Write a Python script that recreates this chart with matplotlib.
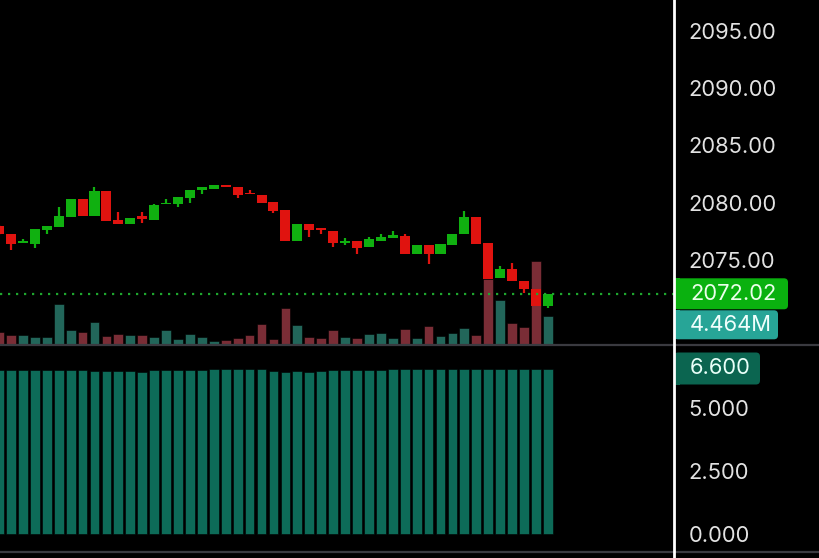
import matplotlib.pyplot as plt
from matplotlib.lines import Line2D
from matplotlib.patches import FancyBboxPatch, Rectangle
import numpy as np

# candles (oldest first), prices
opens = [2077.98, 2077.28, 2076.45, 2076.40, 2077.63, 2077.89, 2078.77, 2080.35, 2078.86, 2081.05,
         2078.51, 2078.16, 2078.86, 2078.51, 2079.91, 2079.91, 2080.44, 2081.14, 2081.23, 2081.58,
         2081.40, 2080.85, 2080.70, 2080.09, 2079.39, 2076.67, 2078.16, 2077.81, 2077.54, 2076.49,
         2076.67, 2076.14, 2076.67, 2076.93, 2077.11, 2075.53, 2076.32, 2075.53, 2076.32, 2077.28,
         2078.77, 2076.49, 2073.42, 2074.21, 2073.16, 2072.46, 2070.96]
closes = [2077.28, 2076.40, 2076.62, 2077.72, 2077.98, 2078.86, 2080.35, 2078.86, 2081.05, 2078.42,
          2078.16, 2078.68, 2078.60, 2079.82, 2080.00, 2080.53, 2081.14, 2081.32, 2081.58, 2081.32,
          2080.70, 2080.75, 2080.00, 2079.30, 2076.67, 2078.16, 2077.63, 2077.63, 2076.49, 2076.67,
          2076.05, 2076.84, 2077.02, 2077.19, 2075.53, 2076.32, 2075.53, 2076.40, 2077.28, 2078.77,
          2076.40, 2073.33, 2074.21, 2073.16, 2072.46, 2070.96, 2072.02]
highs = [2078.05, 2077.28, 2076.84, 2077.72, 2077.98, 2079.65, 2080.35, 2080.35, 2081.40, 2081.05,
         2079.21, 2078.68, 2079.21, 2079.91, 2080.35, 2080.53, 2081.14, 2081.32, 2081.58, 2081.58,
         2081.40, 2081.14, 2080.70, 2080.09, 2079.39, 2078.16, 2078.16, 2077.81, 2077.54, 2076.93,
         2076.67, 2077.02, 2077.28, 2077.54, 2077.28, 2076.32, 2076.32, 2076.40, 2077.28, 2079.30,
         2078.77, 2076.49, 2074.47, 2074.74, 2073.16, 2072.46, 2072.02]
lows = [2077.20, 2075.88, 2076.45, 2076.05, 2077.28, 2077.89, 2078.77, 2078.86, 2078.86, 2078.42,
        2078.16, 2078.16, 2078.25, 2078.51, 2079.91, 2079.65, 2080.00, 2080.79, 2081.23, 2081.32,
        2080.44, 2080.75, 2080.00, 2079.12, 2076.67, 2076.67, 2077.02, 2077.28, 2076.14, 2076.32,
        2075.53, 2076.14, 2076.67, 2076.93, 2075.53, 2075.53, 2074.65, 2075.53, 2076.32, 2077.28,
        2076.40, 2073.33, 2073.42, 2073.16, 2072.11, 2070.96, 2070.79]

# volume in millions
volumes = [2.00, 1.54, 1.54, 1.23, 1.23, 6.31, 2.31, 2.00, 3.54, 1.39,
           1.69, 1.54, 1.54, 1.23, 2.31, 0.92, 1.69, 1.23, 0.62, 0.77,
           1.08, 1.54, 3.23, 0.92, 5.70, 3.08, 1.23, 1.08, 2.31, 1.23,
           1.08, 1.69, 1.85, 1.08, 2.46, 1.08, 2.92, 1.39, 1.85, 2.62,
           1.54, 10.16, 6.93, 3.39, 2.77, 12.93, 4.464]

# lower indicator pane
indicator = [6.54, 6.54, 6.54, 6.54, 6.54, 6.54, 6.54, 6.54, 6.50, 6.50,
             6.50, 6.50, 6.47, 6.54, 6.54, 6.54, 6.54, 6.54, 6.58, 6.58,
             6.58, 6.58, 6.58, 6.50, 6.47, 6.50, 6.47, 6.50, 6.54, 6.54,
             6.54, 6.54, 6.54, 6.60, 6.60, 6.60, 6.60, 6.60, 6.60, 6.60,
             6.60, 6.60, 6.60, 6.60, 6.60, 6.60, 6.60]

price_ticks = [2075, 2080, 2085, 2090, 2095]
ind_ticks = [0, 2.5, 5]


def main():
    W, H = 820, 558
    fig = plt.figure(figsize=(W / 100, H / 100), dpi=100, facecolor="black")
    plt.rcParams["font.family"] = ["Inter", "DejaVu Sans"]

    green = "#10b010"
    red = "#e0130f"
    vol_green = "#22665a"
    vol_red = "#7a2d36"
    ind_color = "#0d6b58"
    txt = "#e2e2e2"
    grid = "#3a3a40"
    fs = 15.8

    x = np.arange(len(opens))
    xlim = (0.08, 56.57)
    up = np.array(closes) >= np.array(opens)

    # volume pane behind the candles
    rect_top = [0, (H - 345) / H, 674 / W, 345 / H]
    ax_vol = fig.add_axes(rect_top, facecolor="black")
    ax_vol.bar(x, volumes, width=0.82, color=[vol_green if u else vol_red for u in up],
               edgecolor="black", linewidth=0.4)
    ax_vol.set_ylim(0, 52.9)
    ax_vol.set_xlim(*xlim)
    ax_vol.axis("off")

    ax = fig.add_axes(rect_top, facecolor="none")
    ax.set_zorder(ax_vol.get_zorder() + 1)
    cols = [green if u else red for u in up]
    ax.vlines(x, lows, highs, colors=cols, linewidth=1.6)
    bottoms = np.minimum(opens, closes)
    heights = np.maximum(np.abs(np.array(closes) - np.array(opens)), 0.08)
    ax.bar(x, heights, bottom=bottoms, width=0.84, color=cols)
    ax.axhline(closes[-1], color="#1fa62e", linewidth=1.6, linestyle=(0, (1, 2.6)))
    ax.set_xlim(*xlim)
    ax.set_ylim(2067.54, 2097.72)
    ax.set_yticks(price_ticks)
    ax.set_yticklabels(["%.2f" % t for t in price_ticks])
    ax.yaxis.tick_right()
    ax.tick_params(axis="y", length=0, pad=10.5, labelsize=fs, labelcolor=txt)
    ax.set_xticks([])
    for s in ax.spines.values():
        s.set_visible(False)

    # lower pane
    ax2 = fig.add_axes([0, (H - 552) / H, 674 / W, (552 - 345) / H], facecolor="black")
    ax2.bar(x, indicator, width=0.82, color=ind_color, edgecolor="black", linewidth=0.4)
    ax2.set_xlim(*xlim)
    ax2.set_ylim(-0.74, 7.54)
    ax2.set_yticks(ind_ticks)
    ax2.set_yticklabels(["%.3f" % t for t in ind_ticks])
    ax2.yaxis.tick_right()
    ax2.tick_params(axis="y", length=0, pad=10.5, labelsize=fs, labelcolor=txt)
    ax2.set_xticks([])
    for s in ax2.spines.values():
        s.set_visible(False)

    # separators
    fig.add_artist(Line2D([0, 1], [(H - 345) / H] * 2, color=grid, linewidth=1.6))
    fig.add_artist(Line2D([0, 1], [(H - 552) / H] * 2, color=grid, linewidth=1.6))

    # value tags on the scale
    def tag(yc, h, w, text, color, fg):
        patch = FancyBboxPatch((674, yc - h / 2), w, h, boxstyle="round,pad=0,rounding_size=4",
                               facecolor=color, edgecolor="none", transform=None, zorder=5)
        fig.add_artist(patch)
        fig.add_artist(Rectangle((674, yc - h / 2), 6, h, facecolor=color, edgecolor="none",
                                 transform=None, zorder=5))
        fig.text(690 / W, yc / H, text, color=fg, fontsize=fs, va="center", ha="left", zorder=6)

    y_price = ax.transData.transform((0, closes[-1]))[1]
    tag(y_price, 31, 114, "%.2f" % closes[-1], "#0ab10f", "#eaffea")
    tag(y_price - 31, 29, 104, "%.3fM" % volumes[-1], "#27a597", "#f0fffc")
    y_ind = ax2.transData.transform((0, indicator[-1]))[1]
    tag(y_ind, 32, 86, "%.3f" % indicator[-1], "#0b6550", "#e8fff8")

    # white price-scale border
    fig.add_artist(Line2D([674 / W] * 2, [0, 1], color="white", linewidth=2, zorder=7))

    fig.savefig("out.png", dpi=100, facecolor="black")


if __name__ == "__main__":
    main()
